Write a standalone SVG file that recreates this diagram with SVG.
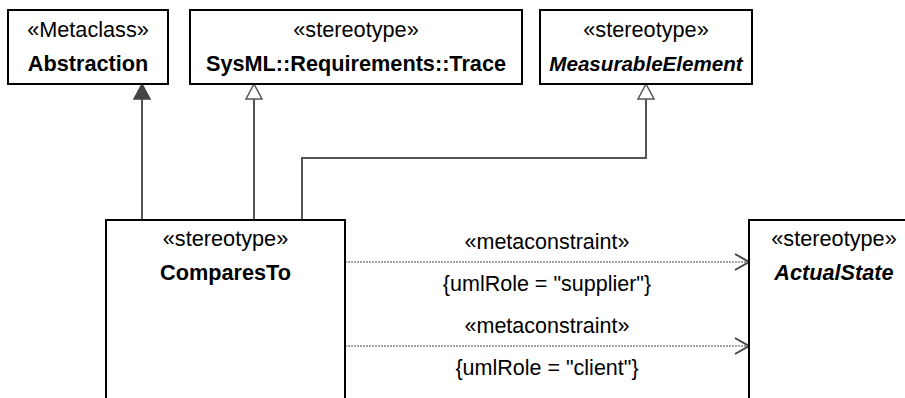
<svg xmlns="http://www.w3.org/2000/svg" width="905" height="398" viewBox="0 0 905 398">
<style>
.box{fill:#fff;stroke:#000;stroke-width:2}
.t{font-family:"Liberation Sans",Arial,sans-serif;font-size:21.7px;fill:#000;text-anchor:middle}
.b{font-weight:bold}
.i{font-style:italic}
.c{fill:none;stroke:#555;stroke-width:2}
.d{fill:none;stroke:#888;stroke-width:1.5;stroke-dasharray:2 1}
.oa{fill:none;stroke:#444;stroke-width:2}
.ta{font-family:"Liberation Sans",Arial,sans-serif;font-size:21.5px;fill:#000;text-anchor:middle}
</style>
<rect width="905" height="398" fill="#fff"/>
<g id="connectors">
<line class="c" x1="142" y1="220" x2="142" y2="98"/>
<polygon points="142,84 134,99 150,99" fill="#444" stroke="#444" stroke-width="1.5"/>
<line class="c" x1="254" y1="220" x2="254" y2="99"/>
<polygon points="254,84 246,99 262,99" fill="#fff" stroke="#555" stroke-width="1.5"/>
<path class="c" d="M302,220 V158 H646 V99"/>
<polygon points="646,84 638,99 654,99" fill="#fff" stroke="#555" stroke-width="1.5"/>
<line class="d" x1="345" y1="262" x2="748" y2="262"/>
<polyline class="oa" points="735,254 749,262 735,270"/>
<line class="d" x1="345" y1="346" x2="748" y2="346"/>
<polyline class="oa" points="735,338 749,346 735,354"/>
<text class="ta" x="547" y="249">«metaconstraint»</text>
<text class="ta" x="547" y="291">{umlRole = "supplier"}</text>
<text class="ta" x="547" y="333">«metaconstraint»</text>
<text class="ta" x="547" y="375">{umlRole = "client"}</text>
</g>
<g id="Abstraction">
<rect class="box" x="8" y="10" width="160" height="74"/>
<text class="t" x="88" y="37">«Metaclass»</text>
<text class="t b" x="88" y="71">Abstraction</text>
</g>
<g id="Trace">
<rect class="box" x="190" y="10" width="332" height="74"/>
<text class="t" x="356" y="37">«stereotype»</text>
<text class="t b" x="356" y="71">SysML::Requirements::Trace</text>
</g>
<g id="MeasurableElement">
<rect class="box" x="540" y="10" width="212" height="74"/>
<text class="t" x="646" y="37">«stereotype»</text>
<text class="t b i" x="646" y="71" style="font-size:20.6px">MeasurableElement</text>
</g>
<g id="ComparesTo">
<rect class="box" x="106" y="220" width="239" height="190"/>
<text class="t" x="225.5" y="246">«stereotype»</text>
<text class="t b" x="225.5" y="280">ComparesTo</text>
</g>
<g id="ActualState">
<rect class="box" x="749" y="220" width="170" height="190"/>
<text class="t" x="834" y="246">«stereotype»</text>
<text class="t b i" x="834" y="280">ActualState</text>
</g>
</svg>
